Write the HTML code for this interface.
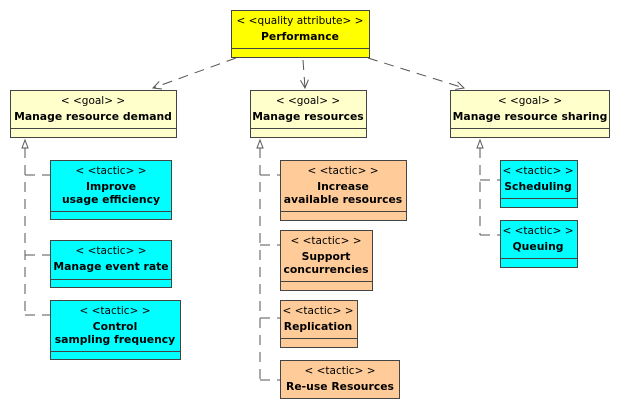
<!DOCTYPE html>
<html><head><style>body{margin:0;background:#fff}svg{display:block}text{font-family:"DejaVu Sans","Liberation Sans",sans-serif;font-size:10.5px;text-anchor:middle;fill:#000}.b{font-weight:bold;font-size:10.8px}</style></head><body>
<svg width="623" height="411" viewBox="0 0 623 411" xmlns="http://www.w3.org/2000/svg">
<defs>
<marker id="op" markerWidth="10" markerHeight="10" refX="9" refY="5" orient="auto" markerUnits="userSpaceOnUse"><path d="M1,1 L9,5 L1,9" fill="none" stroke="#555"/></marker>
</defs>
<g stroke="#555" fill="none" stroke-dasharray="10,7">
<line x1="236" y1="58" x2="153" y2="88" marker-end="url(#op)"/>
<line x1="303" y1="60" x2="305" y2="88" marker-end="url(#op)"/>
<line x1="368" y1="58" x2="464" y2="88" marker-end="url(#op)"/>
<line x1="25" y1="148" x2="25" y2="315"/>
<line x1="260" y1="148" x2="260" y2="380"/>
<line x1="480" y1="148" x2="480" y2="235"/>
<line x1="25" y1="175" x2="50" y2="175"/>
<line x1="25" y1="255" x2="50" y2="255"/>
<line x1="25" y1="315" x2="50" y2="315"/>
<line x1="260" y1="175" x2="280" y2="175"/>
<line x1="260" y1="245" x2="280" y2="245"/>
<line x1="260" y1="318" x2="280" y2="318"/>
<line x1="260" y1="380" x2="280" y2="380"/>
<line x1="480" y1="180" x2="500" y2="180"/>
<line x1="480" y1="235" x2="500" y2="235"/>
</g>
<g stroke="#555" fill="#fff">
<path d="M22,148 L25,140 L28,148 Z"/><line x1="25" y1="148" x2="25" y2="152"/>
<path d="M257,148 L260,140 L263,148 Z"/><line x1="260" y1="148" x2="260" y2="152"/>
<path d="M477,148 L480,140 L483,148 Z"/><line x1="480" y1="148" x2="480" y2="152"/>
</g>
<g stroke="#444">
<rect x="231.5" y="10.5" width="138" height="47" fill="#ffff00"/><line x1="231" y1="48.5" x2="370" y2="48.5"/>
<rect x="10.5" y="90.5" width="166" height="47" fill="#ffffcc"/><line x1="10" y1="128.5" x2="177" y2="128.5"/>
<rect x="250.5" y="90.5" width="116" height="47" fill="#ffffcc"/><line x1="250" y1="128.5" x2="367" y2="128.5"/>
<rect x="450.5" y="90.5" width="159" height="47" fill="#ffffcc"/><line x1="450" y1="128.5" x2="610" y2="128.5"/>
<rect x="50.5" y="160.5" width="121" height="59" fill="#00ffff"/><line x1="50" y1="211.5" x2="172" y2="211.5"/>
<rect x="50.5" y="240.5" width="121" height="47" fill="#00ffff"/><line x1="50" y1="279.5" x2="172" y2="279.5"/>
<rect x="50.5" y="300.5" width="130" height="59" fill="#00ffff"/><line x1="50" y1="351.5" x2="181" y2="351.5"/>
<rect x="280.5" y="160.5" width="126" height="60" fill="#ffcc99"/><line x1="280" y1="211.5" x2="407" y2="211.5"/>
<rect x="280.5" y="230.5" width="92" height="60" fill="#ffcc99"/><line x1="280" y1="281.5" x2="373" y2="281.5"/>
<rect x="280.5" y="300.5" width="77" height="47" fill="#ffcc99"/><line x1="280" y1="338.5" x2="358" y2="338.5"/>
<rect x="280.5" y="360.5" width="119" height="38" fill="#ffcc99"/>
<rect x="500.5" y="160.5" width="77" height="47" fill="#00ffff"/><line x1="500" y1="198.5" x2="578" y2="198.5"/>
<rect x="500.5" y="220.5" width="77" height="47" fill="#00ffff"/><line x1="500" y1="258.5" x2="578" y2="258.5"/>
</g>
<text x="300" y="24">&lt; &lt;quality attribute&gt; &gt;</text><text x="300" y="40" class="b">Performance</text>
<text x="93" y="104">&lt; &lt;goal&gt; &gt;</text><text x="93" y="120" class="b">Manage resource demand</text>
<text x="308" y="104">&lt; &lt;goal&gt; &gt;</text><text x="308" y="120" class="b">Manage resources</text>
<text x="530" y="104">&lt; &lt;goal&gt; &gt;</text><text x="530" y="120" class="b">Manage resource sharing</text>
<text x="111" y="174">&lt; &lt;tactic&gt; &gt;</text><text x="111" y="190" class="b">Improve</text><text x="111" y="203" class="b">usage efficiency</text>
<text x="111" y="254">&lt; &lt;tactic&gt; &gt;</text><text x="111" y="270" class="b">Manage event rate</text>
<text x="115" y="314">&lt; &lt;tactic&gt; &gt;</text><text x="115" y="330" class="b">Control</text><text x="115" y="343" class="b">sampling frequency</text>
<text x="343" y="174">&lt; &lt;tactic&gt; &gt;</text><text x="343" y="190" class="b">Increase</text><text x="343" y="203" class="b">available resources</text>
<text x="326" y="244">&lt; &lt;tactic&gt; &gt;</text><text x="326" y="260" class="b">Support</text><text x="326" y="273" class="b">concurrencies</text>
<text x="318" y="314">&lt; &lt;tactic&gt; &gt;</text><text x="318" y="330" class="b">Replication</text>
<text x="340" y="374">&lt; &lt;tactic&gt; &gt;</text><text x="340" y="390" class="b">Re-use Resources</text>
<text x="538" y="174">&lt; &lt;tactic&gt; &gt;</text><text x="538" y="190" class="b">Scheduling</text>
<text x="538" y="234">&lt; &lt;tactic&gt; &gt;</text><text x="538" y="250" class="b">Queuing</text>
</svg>
</body></html>
